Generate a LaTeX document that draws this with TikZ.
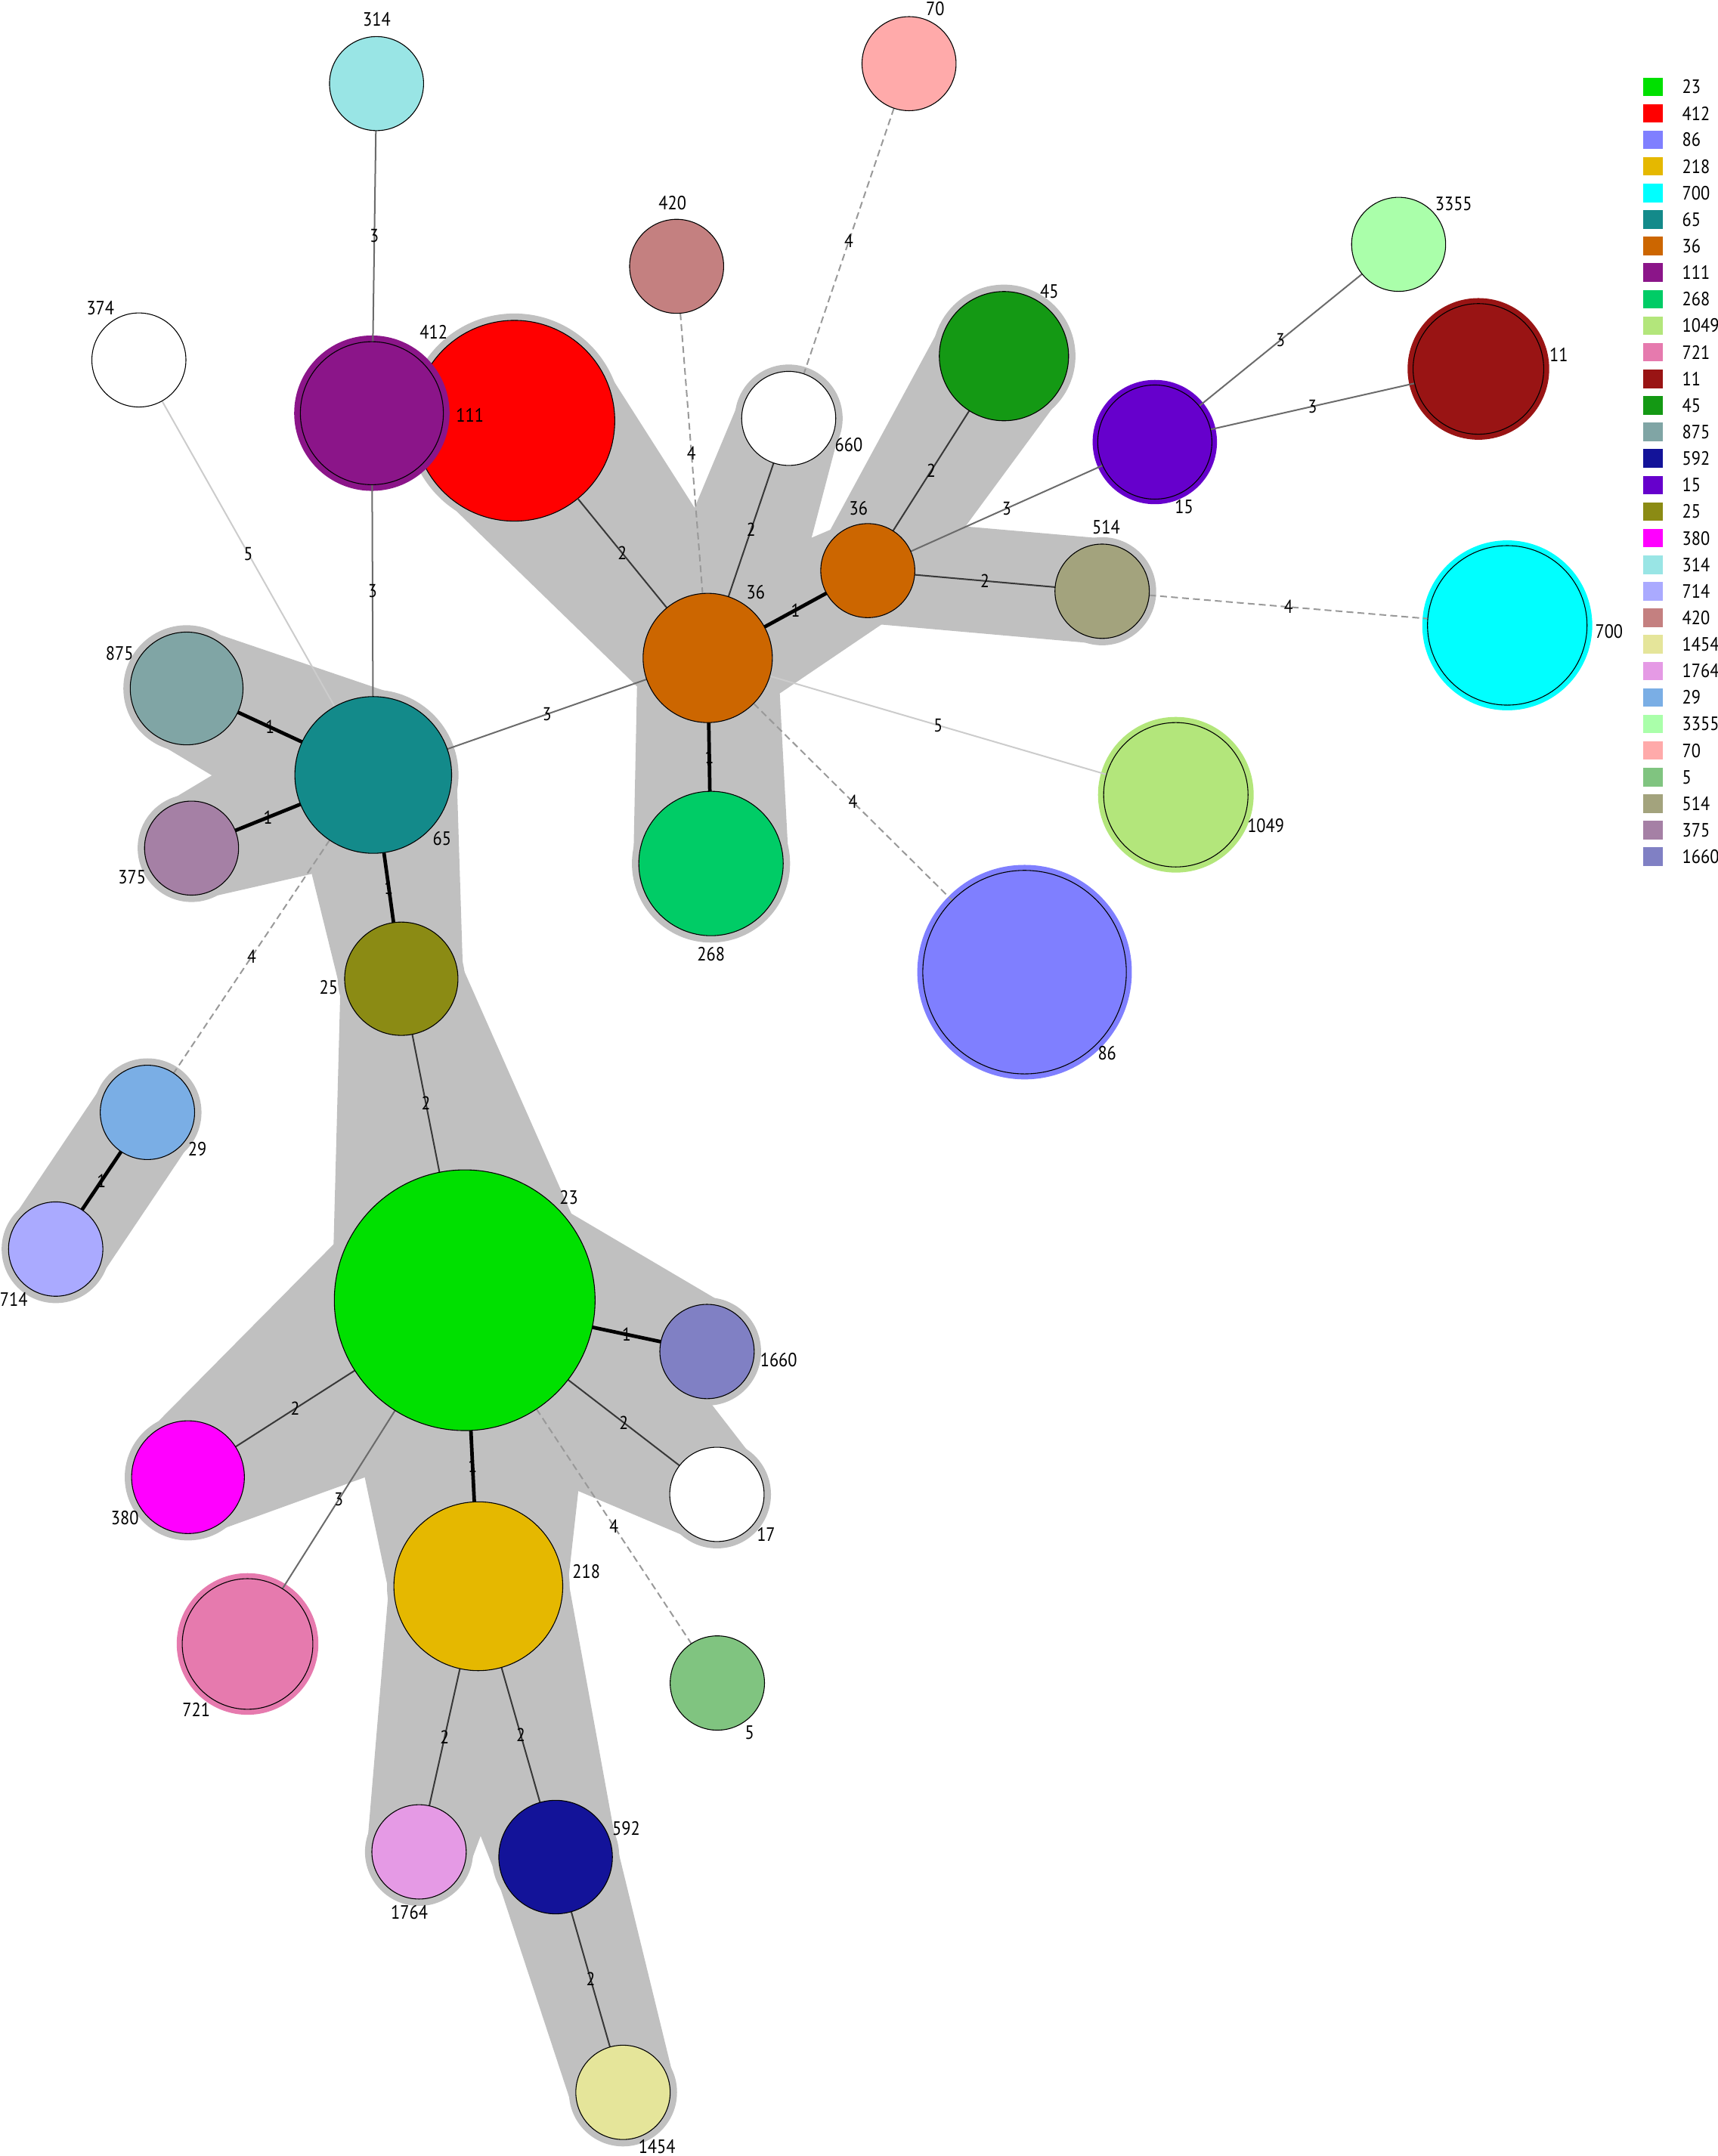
\documentclass[tikz,border=0pt]{standalone}
\usepackage{fontspec}
\setmainfont{PT Sans}[FakeStretch=0.88]
\usetikzlibrary{calc}
\pgfdeclarelayer{bg}
\pgfdeclarelayer{ring}
\pgfdeclarelayer{edge}
\pgfsetlayers{bg,ring,edge,main}
\definecolor{bandgray}{HTML}{C0C0C0}
\definecolor{c23}{HTML}{00E000}
\definecolor{c412}{HTML}{FF0000}
\definecolor{c86}{HTML}{7F7FFF}
\definecolor{c218}{HTML}{E5B800}
\definecolor{c700}{HTML}{00FFFF}
\definecolor{c65}{HTML}{138A8A}
\definecolor{c36}{HTML}{CC6600}
\definecolor{c111}{HTML}{8B1589}
\definecolor{c268}{HTML}{00CC66}
\definecolor{c1049}{HTML}{B3E67B}
\definecolor{c721}{HTML}{E67AAE}
\definecolor{c11}{HTML}{991414}
\definecolor{c45}{HTML}{149914}
\definecolor{c875}{HTML}{80A5A5}
\definecolor{c592}{HTML}{131399}
\definecolor{c15}{HTML}{6600CC}
\definecolor{c25}{HTML}{8B8B14}
\definecolor{c380}{HTML}{FF00FF}
\definecolor{c314}{HTML}{99E5E5}
\definecolor{c714}{HTML}{AAAAFF}
\definecolor{c420}{HTML}{C48080}
\definecolor{c1454}{HTML}{E5E59A}
\definecolor{c1764}{HTML}{E59AE5}
\definecolor{c29}{HTML}{7AAEE5}
\definecolor{c3355}{HTML}{AAFFAA}
\definecolor{c70}{HTML}{FFAAAA}
\definecolor{c5}{HTML}{80C480}
\definecolor{c514}{HTML}{A3A37D}
\definecolor{c375}{HTML}{A580A5}
\definecolor{c1660}{HTML}{8080C4}
\newcommand\mstband[4]{\fill[bandgray] ($(#1.center)!#2pt!90:(#3.center)$) -- ($(#3.center)!#4pt!-90:(#1.center)$) -- ($(#3.center)!#4pt!90:(#1.center)$) -- ($(#1.center)!#2pt!-90:(#3.center)$) -- cycle;}
\newcommand\msthalo[2]{\fill[bandgray] (#1.center) circle[radius=#2pt];}
\tikzset{
  st/.style={circle,draw=black,line width=0.6pt,inner sep=0pt,outer sep=0pt,minimum size=#1},
  wone/.style={line width=2.6pt,black},
  wtwo/.style={line width=1.1pt,black!78},
  wthree/.style={line width=1.1pt,black!58},
  wfour/.style={line width=1.1pt,black!40,dash pattern=on 5pt off 3pt},
  wfive/.style={line width=1.1pt,black!20},
  elab/.style={font=\fontsize{13.5}{13.5}\selectfont,inner sep=0pt,text=black},
  nlab/.style={font=\fontsize{14}{14}\selectfont,inner sep=0pt,text=black},
  legsq/.style={minimum width=14.5pt,minimum height=13.5pt,inner sep=0pt,outer sep=0pt},
}
\begin{document}
\begin{tikzpicture}[x=1pt,y=-1pt]
\useasboundingbox (0,0) rectangle (1249,1568);
% ---- plain nodes
\node[st=68.4pt,fill=c314] (n314) at (273.8,60.8) {};
\node[st=68.4pt,fill=c70] (n70) at (661,46.3) {};
\node[st=68.4pt,fill=c420] (n420) at (492,193.7) {};
\node[st=68.4pt,fill=white] (n374) at (101,261.8) {};
\node[st=68.4pt,fill=c3355] (n3355) at (1017,177.7) {};
\node[st=68.4pt,fill=white] (n660) at (573.5,304.3) {};
\node[st=94pt,fill=c45] (n45) at (730,259) {};
\node[st=68.4pt,fill=c36] (n36s) at (631,415) {};
\node[st=68.6pt,fill=c514] (n514) at (801.4,430) {};
\node[st=94pt,fill=c36] (n36b) at (514.6,478.5) {};
\node[st=82pt,fill=c875] (n875) at (135.7,500.7) {};
\node[st=114pt,fill=c65] (n65) at (271.4,563.6) {};
\node[st=68.4pt,fill=c375] (n375) at (139.3,616.8) {};
\node[st=105pt,fill=c268] (n268) at (517,628) {};
\node[st=82.4pt,fill=c25] (n25) at (291.8,711.8) {};
\node[st=68.6pt,fill=c29] (n29) at (107.2,809) {};
\node[st=68.6pt,fill=c714] (n714) at (40.5,908.4) {};
\node[st=189.6pt,fill=c23] (n23) at (337.9,945.6) {};
\node[st=68.6pt,fill=c1660] (n1660) at (514.1,982.9) {};
\node[st=82pt,fill=c380] (n380) at (136.7,1074.3) {};
\node[st=68.6pt,fill=white] (n17) at (521.3,1086.8) {};
\node[st=122.8pt,fill=c218] (n218) at (347.8,1153.6) {};
\node[st=68.6pt,fill=c5] (n5) at (521.6,1224) {};
\node[st=68.6pt,fill=c1764] (n1764) at (304.7,1346.8) {};
\node[st=82.6pt,fill=c592] (n592) at (404,1350.6) {};
\node[st=68.6pt,fill=c1454] (n1454) at (453,1521.7) {};
% ---- ring nodes (inner circle)
\node[st=104pt,fill=c111] (n111) at (270.4,300.5) {};
\node[st=83pt,fill=c15] (n15) at (839.7,321.5) {};
\node[st=95pt,fill=c11] (n11) at (1075,268.3) {};
\node[st=116pt,fill=c700] (n700) at (1096,454.8) {};
\node[st=105pt,fill=c1049] (n1049) at (855,578) {};
\node[st=148pt,fill=c86] (n86) at (745,707) {};
\node[st=95pt,fill=c721] (n721) at (180,1195.6) {};
% ---- rings
\begin{pgfonlayer}{ring}
\node[st=146pt,fill=c412] (n412) at (374,306) {};
\fill[c111] (n111.center) circle[radius=56.5pt];
\fill[c15] (n15.center) circle[radius=45.2pt];
\fill[c11] (n11.center) circle[radius=51.5pt];
\fill[c700] (n700.center) circle[radius=61.8pt];
\fill[c1049] (n1049.center) circle[radius=56.6pt];
\fill[c86] (n86.center) circle[radius=78pt];
\fill[c721] (n721.center) circle[radius=51.5pt];
\end{pgfonlayer}
% ---- cluster shading
\begin{pgfonlayer}{bg}
\mstband{n412}{77}{n36b}{51}
\mstband{n660}{38.2}{n36b}{51}
\mstband{n36b}{51}{n36s}{38.2}
\mstband{n36s}{38.2}{n45}{51}
\mstband{n36s}{38.2}{n514}{38.3}
\mstband{n36b}{51}{n268}{56.5}
\mstband{n65}{61}{n875}{45}
\mstband{n65}{61}{n375}{38.2}
\mstband{n65}{61}{n25}{45.2}
\mstband{n25}{45.2}{n23}{98.8}
\mstband{n23}{98.8}{n1660}{38.3}
\mstband{n23}{98.8}{n17}{38.3}
\mstband{n23}{98.8}{n380}{45}
\mstband{n23}{98.8}{n218}{65.4}
\mstband{n218}{65.4}{n1764}{38.3}
\mstband{n218}{65.4}{n592}{45.3}
\mstband{n592}{45.3}{n1454}{38.3}
\mstband{n29}{38.3}{n714}{38.3}
\msthalo{n412}{78}
\msthalo{n660}{39.2}
\msthalo{n36b}{52}
\msthalo{n36s}{39.2}
\msthalo{n45}{52}
\msthalo{n514}{39.3}
\msthalo{n268}{57.5}
\msthalo{n65}{62}
\msthalo{n875}{46}
\msthalo{n375}{39.2}
\msthalo{n25}{46.2}
\msthalo{n1660}{39.3}
\msthalo{n17}{39.3}
\msthalo{n380}{46}
\msthalo{n218}{66.4}
\msthalo{n1764}{39.3}
\msthalo{n592}{46.3}
\msthalo{n1454}{39.3}
\msthalo{n29}{39.3}
\msthalo{n714}{39.3}
\end{pgfonlayer}
% ---- connectors
\begin{pgfonlayer}{edge}
\draw[wthree] (n314) -- node[elab]{3} (n111);
\draw[wthree] (n111) -- node[elab]{3} (n65);
\draw[wfive] (n374) -- node[elab]{5} (n65);
\draw[wtwo] (n412) -- node[elab]{2} (n36b);
\draw[wfour] (n420) -- node[elab]{4} (n36b);
\draw[wfour] (n70) -- node[elab]{4} (n660);
\draw[wtwo] (n660) -- node[elab]{2} (n36b);
\draw[wtwo] (n45) -- node[elab]{2} (n36s);
\draw[wone] (n36s) -- node[elab]{1} (n36b);
\draw[wthree] (n36s) -- node[elab]{3} (n15);
\draw[wthree] (n15) -- node[elab]{3} (n3355);
\draw[wthree] (n15) -- node[elab]{3} (n11);
\draw[wtwo] (n36s) -- node[elab]{2} (n514);
\draw[wfour] (n514) -- node[elab]{4} (n700);
\draw[wfive] (n36b) -- node[elab]{5} (n1049);
\draw[wfour] (n36b) -- node[elab]{4} (n86);
\draw[wone] (n36b) -- node[elab]{1} (n268);
\draw[wthree] (n36b) -- node[elab]{3} (n65);
\draw[wone] (n65) -- node[elab]{1} (n875);
\draw[wone] (n65) -- node[elab]{1} (n375);
\draw[wone] (n65) -- node[elab]{1} (n25);
\draw[wfour] (n65) -- node[elab]{4} (n29);
\draw[wone] (n29) -- node[elab]{1} (n714);
\draw[wtwo] (n25) -- node[elab]{2} (n23);
\draw[wone] (n23) -- node[elab]{1} (n1660);
\draw[wtwo] (n23) -- node[elab]{2} (n17);
\draw[wtwo] (n23) -- node[elab]{2} (n380);
\draw[wthree] (n23) -- node[elab]{3} (n721);
\draw[wone] (n23) -- node[elab]{1} (n218);
\draw[wfour] (n23) -- node[elab]{4} (n5);
\draw[wtwo] (n218) -- node[elab]{2} (n1764);
\draw[wtwo] (n218) -- node[elab]{2} (n592);
\draw[wtwo] (n592) -- node[elab]{2} (n1454);
\end{pgfonlayer}
% ---- node labels
\node[nlab] (t314) at (274,14.3) {314};
\node[nlab] (t70) at (680,6.5) {70};
\node[nlab] (t420) at (489,147.6) {420};
\node[nlab] (t374) at (73,224) {374};
\node[nlab] (t3355) at (1057,148) {3355};
\node[nlab] (t412) at (315.3,241.4) {412};
\node[nlab] (t111) at (341.7,302) {111};
\node[nlab] (t660) at (617.2,323.3) {660};
\node[nlab] (t45) at (763,212) {45};
\node[nlab] (t15) at (861,368.7) {15};
\node[nlab] (t11) at (1133.5,258) {11};
\node[nlab] (t36s) at (624.3,369.6) {36};
\node[nlab] (t514) at (804.3,383.6) {514};
\node[nlab] (t36b) at (549.5,430.8) {36};
\node[nlab] (t700) at (1170,459) {700};
\node[nlab] (t875) at (87,475) {875};
\node[nlab] (t65) at (321.4,610) {65};
\node[nlab] (t375) at (96,637.7) {375};
\node[nlab] (t1049) at (920.4,600.3) {1049};
\node[nlab] (t268) at (517,694) {268};
\node[nlab] (t25) at (239,718) {25};
\node[nlab] (t86) at (805,766) {86};
\node[nlab] (t29) at (143.5,835.8) {29};
\node[nlab] (t714) at (10,944.8) {714};
\node[nlab] (t23) at (413.6,870.9) {23};
\node[nlab] (t1660) at (566.2,989.2) {1660};
\node[nlab] (t380) at (90.8,1103.7) {380};
\node[nlab] (t17) at (557,1115.8) {17};
\node[nlab] (t218) at (426.3,1143) {218};
\node[nlab] (t721) at (142.7,1243.3) {721};
\node[nlab] (t5) at (545,1260) {5};
\node[nlab] (t1764) at (297.7,1391) {1764};
\node[nlab] (t592) at (455.3,1330) {592};
\node[nlab] (t1454) at (477.7,1561) {1454};
% ---- legend
\foreach \cl/\tx [count=\i from 0] in {c23/23,c412/412,c86/86,c218/218,c700/700,c65/65,c36/36,c111/111,c268/268,c1049/1049,c721/721,c11/11,c45/45,c875/875,c592/592,c15/15,c25/25,c380/380,c314/314,c714/714,c420/420,c1454/1454,c1764/1764,c29/29,c3355/3355,c70/70,c5/5,c514/514,c375/375,c1660/1660}{
  \node[legsq,fill=\cl] (lsq\i) at (1202,{63.1+19.31*\i}) {};
  \node[nlab,anchor=west] (ltx\i) at (1223,{63.1+19.31*\i}) {\tx};
}
\end{tikzpicture}
\end{document}
